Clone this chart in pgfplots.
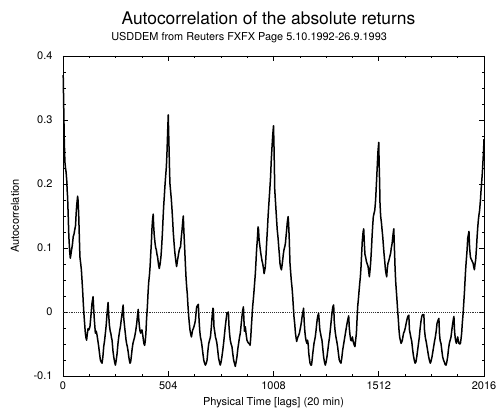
\documentclass[border=0pt]{standalone}
\usepackage{fontspec}
\setmainfont{TeX Gyre Heros}
\usepackage{pgfplots}
\pgfplotsset{compat=1.18}

\begin{document}
\begin{tikzpicture}
\path[use as bounding box] (-63pt,-36pt) rectangle (434pt,376pt);
\begin{axis}[
    scale only axis,
    width=421pt,
    height=320pt,
    xmin=0, xmax=2016,
    ymin=-0.1, ymax=0.4,
    clip=false,
    xtick={0,504,1008,1512,2016},
    xticklabels={0,504,1008,1512,2016},
    minor xtick={0,126,...,2016},
    ytick={-0.1,0,0.1,0.2,0.3,0.4},
    yticklabels={-0.1,0,0.1,0.2,0.3,0.4},
    minor ytick={-0.1,-0.075,...,0.4},
    tick align=inside,
    major tick length=5pt,
    minor tick length=2.5pt,
    tick style={black, line width=0.6pt},
    axis line style={line width=0.8pt},
    ticklabel style={font=\fontsize{11}{13}\selectfont},
    yticklabel style={xshift=-7pt},
    xticklabel style={yshift=-2pt},
    xlabel={Physical Time [lags] (20 min)},
    ylabel={Autocorrelation},
    label style={font=\fontsize{11}{13}\selectfont},
    xlabel style={at={(axis description cs:0.5,-0.084)}, anchor=center},
    ylabel style={at={(axis description cs:-0.114,0.5)}, anchor=center},
    ]
\addplot[gray!40!black, densely dotted, line width=0.9pt] coordinates {(0,0) (2016,0)};
\addplot[black, line width=1.5pt, line join=round] coordinates {
(1,0.37) (3,0.33) (6,0.27) (9,0.235) (12,0.225) (15,0.218) (18,0.205) (20,0.19) (22,0.18) (25,0.15) (28,0.118) (32,0.095) (35,0.084) (38,0.09) (41,0.097) (45,0.105) (49,0.118) (53,0.122) (56,0.128) (60,0.135) (63,0.154) (66,0.168) (70,0.181) (72,0.175) (75,0.154) (78,0.12) (81,0.086) (85,0.075) (88,0.066) (91,0.05) (94,0.034) (97,0.015) (100,-0.002) (104,-0.02) (107,-0.033) (110,-0.04) (113,-0.044) (116,-0.035) (120,-0.026) (124,-0.028) (129,-0.023) (134,-0.005) (139,0.014) (144,0.024) (147,0.005) (150,-0.012) (155,-0.033) (159,-0.03) (163,-0.036) (167,-0.045) (171,-0.054) (175,-0.065) (179,-0.075) (183,-0.078) (187,-0.080) (191,-0.07) (195,-0.054) (199,-0.045) (203,-0.033) (207,-0.02) (211,-0.002) (216,0.015) (219,-0.005) (222,-0.02) (226,-0.03) (229,-0.033) (232,-0.04) (235,-0.044) (239,-0.06) (243,-0.07) (247,-0.078) (251,-0.083) (255,-0.075) (259,-0.065) (263,-0.05) (267,-0.039) (271,-0.03) (275,-0.023) (279,-0.012) (283,-0.002) (288,0.011)
(291,-0.01) (295,-0.023) (299,-0.035) (302,-0.044) (305,-0.05) (308,-0.054) (312,-0.062) (315,-0.07) (318,-0.076) (321,-0.08) (324,-0.078) (327,-0.07) (331,-0.058) (335,-0.049) (339,-0.044) (343,-0.039) (348,-0.03) (353,-0.018) (357,-0.005) (360,0.004) (363,-0.012) (366,-0.023) (369,-0.03) (372,-0.033) (375,-0.03) (378,-0.028) (382,-0.036) (385,-0.044) (388,-0.05) (391,-0.052) (394,-0.045) (397,-0.033) (400,-0.012) (404,0.008) (407,0.028) (410,0.045) (414,0.058) (417,0.071) (420,0.09) (423,0.107) (426,0.13) (429,0.145) (432,0.153) (434,0.135) (437,0.12) (441,0.107) (444,0.1) (447,0.097) (450,0.09) (453,0.086) (457,0.075) (461,0.068) (465,0.075) (469,0.086) (472,0.1) (476,0.123) (479,0.145) (482,0.165) (485,0.18) (488,0.196) (491,0.21) (495,0.227) (498,0.25) (501,0.28) (504,0.308) (506,0.28) (508,0.253) (510,0.225) (512,0.201) (515,0.19) (519,0.175) (522,0.16) (525,0.144) (528,0.125) (532,0.107) (535,0.095) (538,0.086) (541,0.078) (544,0.071) (547,0.078) (551,0.086) (554,0.092) (557,0.097) (560,0.1) (563,0.102) (566,0.115) (570,0.128) (573,0.14) (576,0.15) (579,0.125) (583,0.097) (586,0.075) (589,0.055) (592,0.04) (595,0.029) (598,0.012) (602,-0.007) (605,-0.018) (608,-0.028) (612,-0.035) (615,-0.039) (618,-0.033) (621,-0.028) (624,-0.026) (627,-0.023) (631,-0.018) (634,-0.013) (637,-0.002) (640,0.008) (648,0.012)
(652,-0.015) (655,-0.03) (658,-0.039) (662,-0.045) (666,-0.054) (670,-0.065) (674,-0.075) (678,-0.08) (682,-0.083) (686,-0.08) (690,-0.075) (694,-0.06) (698,-0.049) (702,-0.044) (706,-0.039) (710,-0.025) (714,-0.007) (718,0.006) (720,0.004) (723,-0.023) (727,-0.032) (730,-0.039) (734,-0.044) (737,-0.049) (741,-0.06) (745,-0.072) (749,-0.078) (753,-0.083) (757,-0.078) (761,-0.07) (765,-0.06) (769,-0.049) (773,-0.036) (777,-0.023) (781,-0.012) (785,-0.002) (792,0.0)
(795,-0.023) (798,-0.035) (801,-0.044) (805,-0.05) (809,-0.054) (813,-0.065) (817,-0.075) (821,-0.08) (825,-0.085) (829,-0.078) (833,-0.07) (837,-0.058) (841,-0.049) (845,-0.04) (849,-0.033) (853,-0.02) (857,-0.007) (860,0.002) (864,0.008) (866,-0.01) (869,-0.03) (873,-0.023) (877,-0.035) (881,-0.044) (885,-0.047) (889,-0.049) (893,-0.05) (896,-0.052) (899,-0.04) (902,-0.023) (905,-0.008) (908,0.008) (912,0.022) (915,0.034) (918,0.047) (921,0.06) (924,0.078) (927,0.097) (931,0.115) (934,0.133) (936,0.13) (939,0.113) (942,0.105) (945,0.097) (948,0.09) (950,0.086) (953,0.08) (956,0.076) (960,0.068) (963,0.06) (966,0.065) (969,0.071) (972,0.088) (975,0.107) (979,0.13) (982,0.149) (985,0.165) (988,0.18) (991,0.195) (994,0.211) (997,0.235) (1000,0.253) (1004,0.275) (1008,0.291) (1010,0.265) (1012,0.23) (1014,0.191) (1017,0.175) (1020,0.159) (1023,0.143) (1026,0.128) (1030,0.115) (1033,0.102) (1036,0.09) (1039,0.076) (1042,0.07) (1046,0.066) (1049,0.073) (1052,0.081) (1055,0.09) (1058,0.097) (1062,0.102) (1065,0.107) (1068,0.118) (1071,0.128) (1074,0.14) (1078,0.149) (1080,0.14) (1083,0.118) (1087,0.076) (1090,0.063) (1093,0.05) (1097,0.037) (1100,0.024) (1103,0.008) (1106,-0.007) (1110,-0.02) (1113,-0.033) (1116,-0.04) (1119,-0.046) (1122,-0.042) (1125,-0.039) (1129,-0.036) (1132,-0.033) (1135,-0.028) (1138,-0.023) (1142,-0.015) (1145,-0.007) (1149,0.0) (1152,0.006)
(1155,-0.015) (1158,-0.03) (1161,-0.039) (1164,-0.045) (1168,-0.049) (1171,-0.044) (1174,-0.05) (1177,-0.065) (1180,-0.073) (1183,-0.08) (1187,-0.083) (1190,-0.083) (1193,-0.075) (1196,-0.065) (1199,-0.057) (1202,-0.049) (1205,-0.044) (1208,-0.039) (1212,-0.028) (1215,-0.018) (1218,-0.01) (1221,-0.005) (1224,-0.002) (1227,-0.015) (1230,-0.028) (1233,-0.033) (1237,-0.04) (1240,-0.044) (1244,-0.057) (1248,-0.07) (1252,-0.078) (1256,-0.083) (1260,-0.078) (1264,-0.07) (1268,-0.06) (1272,-0.049) (1276,-0.04) (1280,-0.028) (1284,-0.015) (1288,-0.002) (1292,0.008) (1296,0.011)
(1299,-0.015) (1303,-0.03) (1307,-0.039) (1311,-0.046) (1315,-0.054) (1319,-0.065) (1323,-0.075) (1327,-0.078) (1331,-0.08) (1335,-0.072) (1339,-0.06) (1343,-0.052) (1347,-0.044) (1351,-0.036) (1355,-0.028) (1359,-0.02) (1363,-0.013) (1368,-0.006) (1371,-0.025) (1374,-0.035) (1378,-0.044) (1382,-0.045) (1386,-0.039) (1389,-0.045) (1392,-0.049) (1395,-0.052) (1398,-0.054) (1401,-0.045) (1405,-0.033) (1408,-0.012) (1411,0.008) (1415,0.022) (1418,0.034) (1421,0.045) (1424,0.055) (1427,0.07) (1430,0.09) (1433,0.11) (1437,0.125) (1440,0.13) (1443,0.107) (1446,0.09) (1449,0.086) (1453,0.079) (1457,0.075) (1461,0.071) (1464,0.063) (1467,0.055) (1470,0.065) (1473,0.076) (1477,0.098) (1480,0.118) (1483,0.135) (1486,0.149) (1490,0.155) (1493,0.159) (1497,0.175) (1500,0.195) (1504,0.222) (1508,0.25) (1512,0.265) (1514,0.23) (1516,0.205) (1518,0.17) (1521,0.15) (1525,0.139) (1528,0.128) (1531,0.118) (1534,0.105) (1537,0.092) (1541,0.078) (1544,0.066) (1547,0.06) (1550,0.055) (1553,0.068) (1556,0.076) (1560,0.08) (1563,0.084) (1566,0.088) (1569,0.092) (1572,0.1) (1576,0.107) (1580,0.12) (1584,0.13) (1587,0.1) (1590,0.07) (1593,0.048) (1596,0.034) (1599,0.02) (1602,0.005) (1606,-0.013) (1609,-0.028) (1612,-0.039) (1616,-0.045) (1619,-0.049) (1622,-0.047) (1625,-0.044) (1628,-0.038) (1631,-0.033) (1635,-0.03) (1639,-0.025) (1643,-0.018) (1647,-0.012) (1651,-0.007) (1656,-0.005)
(1659,-0.028) (1662,-0.033) (1666,-0.04) (1670,-0.046) (1674,-0.058) (1678,-0.068) (1682,-0.075) (1686,-0.08) (1690,-0.078) (1694,-0.07) (1698,-0.06) (1702,-0.05) (1706,-0.04) (1710,-0.026) (1714,-0.015) (1718,-0.007) (1722,-0.004) (1728,-0.004) (1731,-0.028) (1735,-0.04) (1739,-0.046) (1743,-0.054) (1747,-0.062) (1751,-0.07) (1755,-0.076) (1759,-0.08) (1763,-0.076) (1767,-0.07) (1771,-0.062) (1775,-0.054) (1779,-0.046) (1783,-0.039) (1787,-0.03) (1791,-0.018) (1796,-0.013) (1800,-0.01)
(1803,-0.035) (1806,-0.045) (1810,-0.049) (1814,-0.06) (1818,-0.07) (1822,-0.075) (1826,-0.078) (1830,-0.082) (1834,-0.083) (1838,-0.078) (1842,-0.07) (1846,-0.058) (1850,-0.049) (1854,-0.044) (1858,-0.039) (1862,-0.028) (1866,-0.018) (1870,-0.01) (1872,-0.007) (1875,-0.03) (1878,-0.04) (1881,-0.046) (1884,-0.049) (1887,-0.044) (1890,-0.039) (1893,-0.045) (1896,-0.049) (1900,-0.05) (1903,-0.049) (1906,-0.042) (1909,-0.033) (1912,-0.018) (1916,-0.002) (1919,0.014) (1922,0.029) (1925,0.048) (1928,0.066) (1931,0.08) (1935,0.097) (1938,0.115) (1944,0.126) (1947,0.1) (1951,0.086) (1954,0.083) (1957,0.081) (1961,0.078) (1964,0.076) (1967,0.07) (1970,0.066) (1973,0.075) (1976,0.081) (1980,0.1) (1983,0.118) (1986,0.132) (1989,0.144) (1992,0.152) (1995,0.159) (1999,0.175) (2002,0.191) (2005,0.204) (2008,0.217) (2011,0.235) (2014,0.253) (2016,0.27)
};
\node[font=\fontsize{17.4}{20}\selectfont] at (rel axis cs:0.488,1.118) {Autocorrelation of the absolute returns};
\node[font=\fontsize{10.9}{12}\selectfont] at (rel axis cs:0.442,1.058) {USDDEM from Reuters FXFX Page 5.10.1992-26.9.1993};
\end{axis}
\end{tikzpicture}
\end{document}
